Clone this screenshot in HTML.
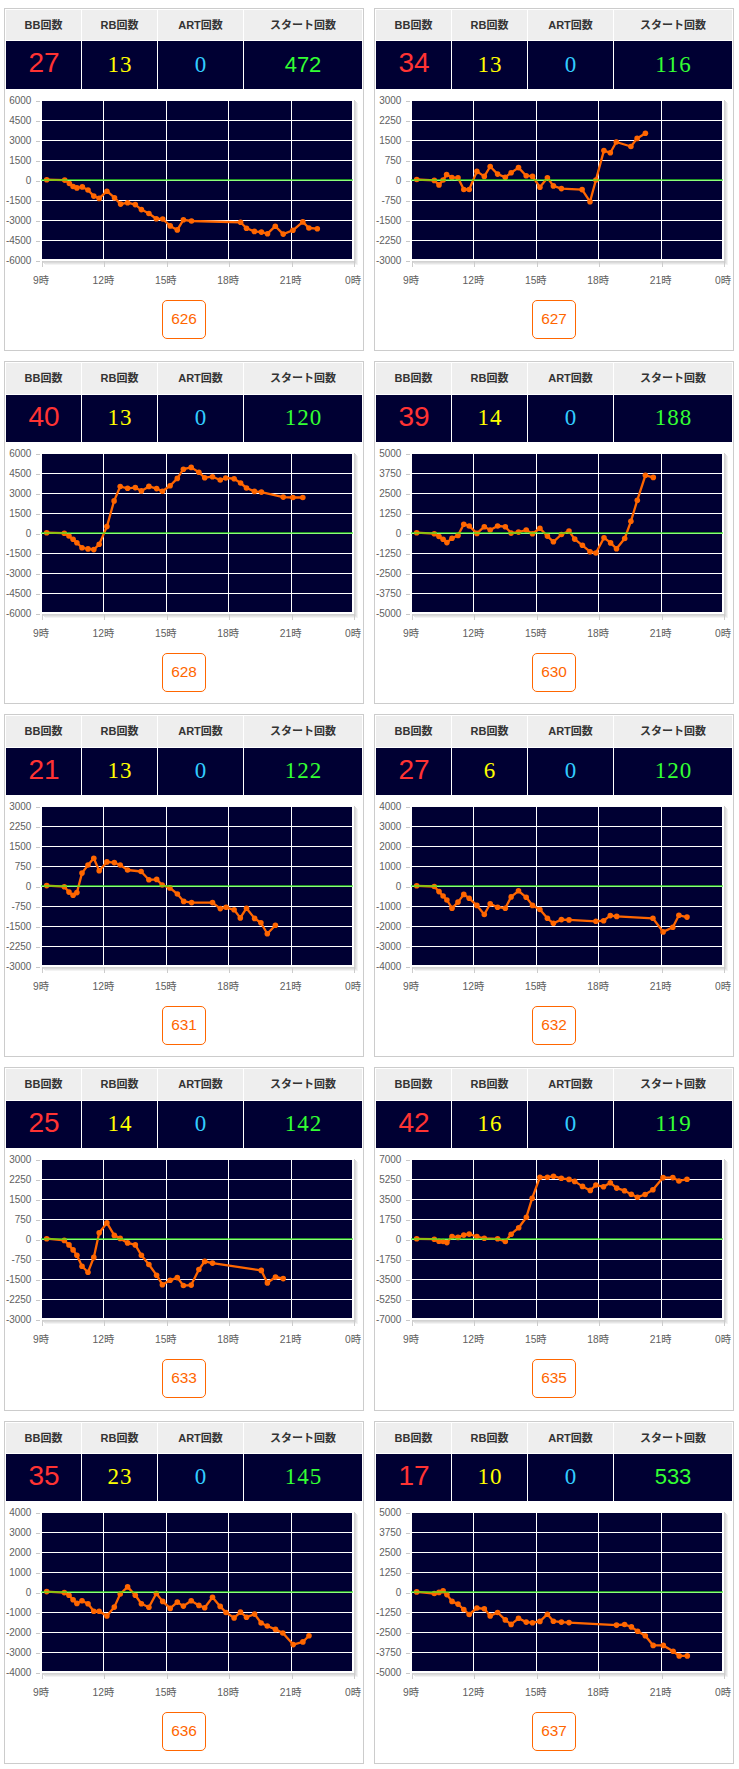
<!DOCTYPE html><html><head><meta charset="utf-8"><style>
*{margin:0;padding:0;box-sizing:border-box}
html,body{width:739px;height:1769px;background:#fff;overflow:hidden}
body{position:relative;font-family:"Liberation Sans","Noto Sans CJK JP",sans-serif}
.card{position:absolute;width:360px;height:345px}
.bd{position:absolute;left:0;width:360px;border:1px solid #ccc}
.h{position:absolute;background:#eee;color:#333;font-weight:bold;font-size:11px;text-align:center;white-space:nowrap}
.d{position:absolute;background:#000033;text-align:center;white-space:nowrap}
.c1{left:2px;width:75px}.c2{left:78px;width:75px}.c3{left:154px;width:85px}.c4{left:240px;width:118px}
.d span{position:absolute;left:0;right:0;top:0;line-height:1}
.rb,.art,.st2{letter-spacing:1px;padding-left:1px}
.bb{color:#ff3333;font-size:28px;font-family:"Liberation Sans",sans-serif}
.rb{color:#ffff00;font-size:23px;font-family:"Liberation Serif",serif}
.art{color:#33ccff;font-size:23px;font-family:"Liberation Serif",serif}
.st{color:#33ff33;font-size:22px;font-family:"Liberation Sans",sans-serif}
.st2{color:#33ff33;font-size:23px;font-family:"Liberation Serif",serif}
.chart{position:absolute;left:0;top:0}
.btn{position:absolute;left:158px;top:292px;width:44px;height:39px;border:1px solid #ff6600;border-radius:5px;color:#ff6600;font-size:15.4px;line-height:36px;text-align:center;font-family:"Liberation Sans",sans-serif}
.yl{font-size:10.5px;fill:#606060;font-family:"Liberation Sans",sans-serif}
.xl{font-size:10.3px;fill:#606060;font-family:"Liberation Sans","Noto Sans CJK JP",sans-serif}
</style></head><body><div class="card" style="left:4px;top:8px"><div class="bd" style="top:0px;height:343px"></div><div class="h c1" style="top:2px;height:30px;line-height:30px">BB回数</div><div class="h c2" style="top:2px;height:30px;line-height:30px">RB回数</div><div class="h c3" style="top:2px;height:30px;line-height:30px">ART回数</div><div class="h c4" style="top:2px;height:30px;line-height:30px">スタート回数</div><div class="d c1" style="top:33px;height:48px"><span class="bb" style="top:8px;left:1px">27</span></div><div class="d c2" style="top:33px;height:48px"><span class="rb" style="top:12px">13</span></div><div class="d c3" style="top:33px;height:48px"><span class="art" style="top:12px">0</span></div><div class="d c4" style="top:33px;height:48px"><span class="st" style="top:13px">472</span></div><svg class="chart" width="360" height="300" viewBox="0 0 360 300"><rect x="350" y="92" width="1" height="161" fill="#d2d2d2"/><rect x="38" y="253" width="313" height="1" fill="#d2d2d2"/><rect x="351" y="93" width="1" height="161" fill="#dadada"/><rect x="39" y="254" width="313" height="1" fill="#dadada"/><rect x="352" y="94" width="1" height="161" fill="#e6e6e6"/><rect x="40" y="255" width="313" height="1" fill="#e6e6e6"/><rect x="353" y="95" width="1" height="161" fill="#f3f3f3"/><rect x="41" y="256" width="313" height="1" fill="#f3f3f3"/><rect x="38" y="93" width="310" height="158" fill="#000033"/><rect x="99" y="93" width="1" height="158" fill="#fff"/><rect x="162" y="93" width="1" height="158" fill="#fff"/><rect x="224" y="93" width="1" height="158" fill="#fff"/><rect x="287" y="93" width="1" height="158" fill="#fff"/><rect x="38" y="112" width="310" height="1" fill="#fff"/><rect x="38" y="132" width="310" height="1" fill="#fff"/><rect x="38" y="152" width="310" height="1" fill="#fff"/><rect x="38" y="172" width="310" height="1" fill="#fff"/><rect x="38" y="192" width="310" height="1" fill="#fff"/><rect x="38" y="212" width="310" height="1" fill="#fff"/><rect x="38" y="232" width="310" height="1" fill="#fff"/><rect x="32" y="93" width="4" height="1" fill="#c8c8c8"/><text class="yl" transform="translate(27.4 95.8) scale(0.95 1)" text-anchor="end">6000</text><rect x="32" y="113" width="4" height="1" fill="#c8c8c8"/><text class="yl" transform="translate(27.4 115.8) scale(0.95 1)" text-anchor="end">4500</text><rect x="32" y="133" width="4" height="1" fill="#c8c8c8"/><text class="yl" transform="translate(27.4 135.8) scale(0.95 1)" text-anchor="end">3000</text><rect x="32" y="153" width="4" height="1" fill="#c8c8c8"/><text class="yl" transform="translate(27.4 155.8) scale(0.95 1)" text-anchor="end">1500</text><rect x="32" y="173" width="4" height="1" fill="#c8c8c8"/><text class="yl" transform="translate(27.4 175.8) scale(0.95 1)" text-anchor="end">0</text><rect x="32" y="193" width="4" height="1" fill="#c8c8c8"/><text class="yl" transform="translate(27.4 195.8) scale(0.95 1)" text-anchor="end">-1500</text><rect x="32" y="213" width="4" height="1" fill="#c8c8c8"/><text class="yl" transform="translate(27.4 215.8) scale(0.95 1)" text-anchor="end">-3000</text><rect x="32" y="233" width="4" height="1" fill="#c8c8c8"/><text class="yl" transform="translate(27.4 235.8) scale(0.95 1)" text-anchor="end">-4500</text><rect x="32" y="253" width="4" height="1" fill="#c8c8c8"/><text class="yl" transform="translate(27.4 255.8) scale(0.95 1)" text-anchor="end">-6000</text><rect x="38" y="253" width="1" height="6" fill="#ccc"/><text class="xl" x="37.0" y="276" text-anchor="middle">9時</text><rect x="100" y="253" width="1" height="6" fill="#ccc"/><text class="xl" x="99.4" y="276" text-anchor="middle">12時</text><rect x="163" y="253" width="1" height="6" fill="#ccc"/><text class="xl" x="161.8" y="276" text-anchor="middle">15時</text><rect x="225" y="253" width="1" height="6" fill="#ccc"/><text class="xl" x="224.2" y="276" text-anchor="middle">18時</text><rect x="288" y="253" width="1" height="6" fill="#ccc"/><text class="xl" x="286.6" y="276" text-anchor="middle">21時</text><rect x="350" y="253" width="1" height="6" fill="#ccc"/><text class="xl" x="349.0" y="276" text-anchor="middle">0時</text><polyline points="42.7,171.7 60.7,172.1 65.4,175.5 69.1,178.5 72.9,179.9 78.3,178.9 84.0,182.0 89.8,188.1 95.2,190.4 102.9,183.2 110.5,189.7 116.6,196.1 123.6,194.7 131.3,196.6 137.4,201.6 144.9,205.5 152.3,210.7 158.7,211.0 166.2,217.9 173.3,221.9 179.4,211.8 187.5,213.0 236.6,214.3 242.5,220.3 250.4,223.4 257.4,224.1 263.5,225.7 271.3,218.2 279.2,226.1 288.9,222.3 298.8,213.9 304.9,220.0 313.3,220.7" fill="none" stroke="#ff6600" stroke-width="2.3" stroke-linejoin="round"/><circle cx="42.7" cy="171.7" r="2.8" fill="#ff6600"/><circle cx="60.7" cy="172.1" r="2.8" fill="#ff6600"/><circle cx="65.4" cy="175.5" r="2.8" fill="#ff6600"/><circle cx="69.1" cy="178.5" r="2.8" fill="#ff6600"/><circle cx="72.9" cy="179.9" r="2.8" fill="#ff6600"/><circle cx="78.3" cy="178.9" r="2.8" fill="#ff6600"/><circle cx="84.0" cy="182.0" r="2.8" fill="#ff6600"/><circle cx="89.8" cy="188.1" r="2.8" fill="#ff6600"/><circle cx="95.2" cy="190.4" r="2.8" fill="#ff6600"/><circle cx="102.9" cy="183.2" r="2.8" fill="#ff6600"/><circle cx="110.5" cy="189.7" r="2.8" fill="#ff6600"/><circle cx="116.6" cy="196.1" r="2.8" fill="#ff6600"/><circle cx="123.6" cy="194.7" r="2.8" fill="#ff6600"/><circle cx="131.3" cy="196.6" r="2.8" fill="#ff6600"/><circle cx="137.4" cy="201.6" r="2.8" fill="#ff6600"/><circle cx="144.9" cy="205.5" r="2.8" fill="#ff6600"/><circle cx="152.3" cy="210.7" r="2.8" fill="#ff6600"/><circle cx="158.7" cy="211.0" r="2.8" fill="#ff6600"/><circle cx="166.2" cy="217.9" r="2.8" fill="#ff6600"/><circle cx="173.3" cy="221.9" r="2.8" fill="#ff6600"/><circle cx="179.4" cy="211.8" r="2.8" fill="#ff6600"/><circle cx="187.5" cy="213.0" r="2.8" fill="#ff6600"/><circle cx="236.6" cy="214.3" r="2.8" fill="#ff6600"/><circle cx="242.5" cy="220.3" r="2.8" fill="#ff6600"/><circle cx="250.4" cy="223.4" r="2.8" fill="#ff6600"/><circle cx="257.4" cy="224.1" r="2.8" fill="#ff6600"/><circle cx="263.5" cy="225.7" r="2.8" fill="#ff6600"/><circle cx="271.3" cy="218.2" r="2.8" fill="#ff6600"/><circle cx="279.2" cy="226.1" r="2.8" fill="#ff6600"/><circle cx="288.9" cy="222.3" r="2.8" fill="#ff6600"/><circle cx="298.8" cy="213.9" r="2.8" fill="#ff6600"/><circle cx="304.9" cy="220.0" r="2.8" fill="#ff6600"/><circle cx="313.3" cy="220.7" r="2.8" fill="#ff6600"/><rect x="37" y="171" width="312" height="2" fill="rgba(60,255,30,0.58)"/></svg><div class="btn">626</div></div><div class="card" style="left:374px;top:8px"><div class="bd" style="top:0px;height:343px"></div><div class="h c1" style="top:2px;height:30px;line-height:30px">BB回数</div><div class="h c2" style="top:2px;height:30px;line-height:30px">RB回数</div><div class="h c3" style="top:2px;height:30px;line-height:30px">ART回数</div><div class="h c4" style="top:2px;height:30px;line-height:30px">スタート回数</div><div class="d c1" style="top:33px;height:48px"><span class="bb" style="top:8px;left:1px">34</span></div><div class="d c2" style="top:33px;height:48px"><span class="rb" style="top:12px">13</span></div><div class="d c3" style="top:33px;height:48px"><span class="art" style="top:12px">0</span></div><div class="d c4" style="top:33px;height:48px"><span class="st2" style="top:12px">116</span></div><svg class="chart" width="360" height="300" viewBox="0 0 360 300"><rect x="350" y="92" width="1" height="161" fill="#d2d2d2"/><rect x="38" y="253" width="313" height="1" fill="#d2d2d2"/><rect x="351" y="93" width="1" height="161" fill="#dadada"/><rect x="39" y="254" width="313" height="1" fill="#dadada"/><rect x="352" y="94" width="1" height="161" fill="#e6e6e6"/><rect x="40" y="255" width="313" height="1" fill="#e6e6e6"/><rect x="353" y="95" width="1" height="161" fill="#f3f3f3"/><rect x="41" y="256" width="313" height="1" fill="#f3f3f3"/><rect x="38" y="93" width="310" height="158" fill="#000033"/><rect x="99" y="93" width="1" height="158" fill="#fff"/><rect x="162" y="93" width="1" height="158" fill="#fff"/><rect x="224" y="93" width="1" height="158" fill="#fff"/><rect x="287" y="93" width="1" height="158" fill="#fff"/><rect x="38" y="112" width="310" height="1" fill="#fff"/><rect x="38" y="132" width="310" height="1" fill="#fff"/><rect x="38" y="152" width="310" height="1" fill="#fff"/><rect x="38" y="172" width="310" height="1" fill="#fff"/><rect x="38" y="192" width="310" height="1" fill="#fff"/><rect x="38" y="212" width="310" height="1" fill="#fff"/><rect x="38" y="232" width="310" height="1" fill="#fff"/><rect x="32" y="93" width="4" height="1" fill="#c8c8c8"/><text class="yl" transform="translate(27.4 95.8) scale(0.95 1)" text-anchor="end">3000</text><rect x="32" y="113" width="4" height="1" fill="#c8c8c8"/><text class="yl" transform="translate(27.4 115.8) scale(0.95 1)" text-anchor="end">2250</text><rect x="32" y="133" width="4" height="1" fill="#c8c8c8"/><text class="yl" transform="translate(27.4 135.8) scale(0.95 1)" text-anchor="end">1500</text><rect x="32" y="153" width="4" height="1" fill="#c8c8c8"/><text class="yl" transform="translate(27.4 155.8) scale(0.95 1)" text-anchor="end">750</text><rect x="32" y="173" width="4" height="1" fill="#c8c8c8"/><text class="yl" transform="translate(27.4 175.8) scale(0.95 1)" text-anchor="end">0</text><rect x="32" y="193" width="4" height="1" fill="#c8c8c8"/><text class="yl" transform="translate(27.4 195.8) scale(0.95 1)" text-anchor="end">-750</text><rect x="32" y="213" width="4" height="1" fill="#c8c8c8"/><text class="yl" transform="translate(27.4 215.8) scale(0.95 1)" text-anchor="end">-1500</text><rect x="32" y="233" width="4" height="1" fill="#c8c8c8"/><text class="yl" transform="translate(27.4 235.8) scale(0.95 1)" text-anchor="end">-2250</text><rect x="32" y="253" width="4" height="1" fill="#c8c8c8"/><text class="yl" transform="translate(27.4 255.8) scale(0.95 1)" text-anchor="end">-3000</text><rect x="38" y="253" width="1" height="6" fill="#ccc"/><text class="xl" x="37.0" y="276" text-anchor="middle">9時</text><rect x="100" y="253" width="1" height="6" fill="#ccc"/><text class="xl" x="99.4" y="276" text-anchor="middle">12時</text><rect x="163" y="253" width="1" height="6" fill="#ccc"/><text class="xl" x="161.8" y="276" text-anchor="middle">15時</text><rect x="225" y="253" width="1" height="6" fill="#ccc"/><text class="xl" x="224.2" y="276" text-anchor="middle">18時</text><rect x="288" y="253" width="1" height="6" fill="#ccc"/><text class="xl" x="286.6" y="276" text-anchor="middle">21時</text><rect x="350" y="253" width="1" height="6" fill="#ccc"/><text class="xl" x="349.0" y="276" text-anchor="middle">0時</text><polyline points="42.7,171.5 60.3,172.4 65.0,176.9 69.1,172.0 72.6,166.6 77.9,169.5 84.0,169.7 89.8,181.5 95.2,181.5 102.9,163.4 110.3,168.4 116.2,158.5 123.6,166.1 131.3,169.3 137.1,164.7 144.5,159.6 152.2,167.7 158.5,168.4 165.9,179.2 173.4,169.7 179.4,177.9 187.4,180.6 208.1,181.6 216.0,193.7 221.9,172.0 229.9,142.6 236.3,144.8 242.3,134.0 256.9,138.5 263.1,130.4 271.4,125.3" fill="none" stroke="#ff6600" stroke-width="2.3" stroke-linejoin="round"/><circle cx="42.7" cy="171.5" r="2.8" fill="#ff6600"/><circle cx="60.3" cy="172.4" r="2.8" fill="#ff6600"/><circle cx="65.0" cy="176.9" r="2.8" fill="#ff6600"/><circle cx="69.1" cy="172.0" r="2.8" fill="#ff6600"/><circle cx="72.6" cy="166.6" r="2.8" fill="#ff6600"/><circle cx="77.9" cy="169.5" r="2.8" fill="#ff6600"/><circle cx="84.0" cy="169.7" r="2.8" fill="#ff6600"/><circle cx="89.8" cy="181.5" r="2.8" fill="#ff6600"/><circle cx="95.2" cy="181.5" r="2.8" fill="#ff6600"/><circle cx="102.9" cy="163.4" r="2.8" fill="#ff6600"/><circle cx="110.3" cy="168.4" r="2.8" fill="#ff6600"/><circle cx="116.2" cy="158.5" r="2.8" fill="#ff6600"/><circle cx="123.6" cy="166.1" r="2.8" fill="#ff6600"/><circle cx="131.3" cy="169.3" r="2.8" fill="#ff6600"/><circle cx="137.1" cy="164.7" r="2.8" fill="#ff6600"/><circle cx="144.5" cy="159.6" r="2.8" fill="#ff6600"/><circle cx="152.2" cy="167.7" r="2.8" fill="#ff6600"/><circle cx="158.5" cy="168.4" r="2.8" fill="#ff6600"/><circle cx="165.9" cy="179.2" r="2.8" fill="#ff6600"/><circle cx="173.4" cy="169.7" r="2.8" fill="#ff6600"/><circle cx="179.4" cy="177.9" r="2.8" fill="#ff6600"/><circle cx="187.4" cy="180.6" r="2.8" fill="#ff6600"/><circle cx="208.1" cy="181.6" r="2.8" fill="#ff6600"/><circle cx="216.0" cy="193.7" r="2.8" fill="#ff6600"/><circle cx="221.9" cy="172.0" r="2.8" fill="#ff6600"/><circle cx="229.9" cy="142.6" r="2.8" fill="#ff6600"/><circle cx="236.3" cy="144.8" r="2.8" fill="#ff6600"/><circle cx="242.3" cy="134.0" r="2.8" fill="#ff6600"/><circle cx="256.9" cy="138.5" r="2.8" fill="#ff6600"/><circle cx="263.1" cy="130.4" r="2.8" fill="#ff6600"/><circle cx="271.4" cy="125.3" r="2.8" fill="#ff6600"/><rect x="37" y="171" width="312" height="2" fill="rgba(60,255,30,0.58)"/></svg><div class="btn">627</div></div><div class="card" style="left:4px;top:361px"><div class="bd" style="top:0px;height:343px"></div><div class="h c1" style="top:2px;height:31px;line-height:31px">BB回数</div><div class="h c2" style="top:2px;height:31px;line-height:31px">RB回数</div><div class="h c3" style="top:2px;height:31px;line-height:31px">ART回数</div><div class="h c4" style="top:2px;height:31px;line-height:31px">スタート回数</div><div class="d c1" style="top:34px;height:47px"><span class="bb" style="top:8px;left:1px">40</span></div><div class="d c2" style="top:34px;height:47px"><span class="rb" style="top:11px">13</span></div><div class="d c3" style="top:34px;height:47px"><span class="art" style="top:11px">0</span></div><div class="d c4" style="top:34px;height:47px"><span class="st2" style="top:11px">120</span></div><svg class="chart" width="360" height="300" viewBox="0 0 360 300"><rect x="350" y="92" width="1" height="161" fill="#d2d2d2"/><rect x="38" y="253" width="313" height="1" fill="#d2d2d2"/><rect x="351" y="93" width="1" height="161" fill="#dadada"/><rect x="39" y="254" width="313" height="1" fill="#dadada"/><rect x="352" y="94" width="1" height="161" fill="#e6e6e6"/><rect x="40" y="255" width="313" height="1" fill="#e6e6e6"/><rect x="353" y="95" width="1" height="161" fill="#f3f3f3"/><rect x="41" y="256" width="313" height="1" fill="#f3f3f3"/><rect x="38" y="93" width="310" height="158" fill="#000033"/><rect x="99" y="93" width="1" height="158" fill="#fff"/><rect x="162" y="93" width="1" height="158" fill="#fff"/><rect x="224" y="93" width="1" height="158" fill="#fff"/><rect x="287" y="93" width="1" height="158" fill="#fff"/><rect x="38" y="112" width="310" height="1" fill="#fff"/><rect x="38" y="132" width="310" height="1" fill="#fff"/><rect x="38" y="152" width="310" height="1" fill="#fff"/><rect x="38" y="172" width="310" height="1" fill="#fff"/><rect x="38" y="192" width="310" height="1" fill="#fff"/><rect x="38" y="212" width="310" height="1" fill="#fff"/><rect x="38" y="232" width="310" height="1" fill="#fff"/><rect x="32" y="93" width="4" height="1" fill="#c8c8c8"/><text class="yl" transform="translate(27.4 95.8) scale(0.95 1)" text-anchor="end">6000</text><rect x="32" y="113" width="4" height="1" fill="#c8c8c8"/><text class="yl" transform="translate(27.4 115.8) scale(0.95 1)" text-anchor="end">4500</text><rect x="32" y="133" width="4" height="1" fill="#c8c8c8"/><text class="yl" transform="translate(27.4 135.8) scale(0.95 1)" text-anchor="end">3000</text><rect x="32" y="153" width="4" height="1" fill="#c8c8c8"/><text class="yl" transform="translate(27.4 155.8) scale(0.95 1)" text-anchor="end">1500</text><rect x="32" y="173" width="4" height="1" fill="#c8c8c8"/><text class="yl" transform="translate(27.4 175.8) scale(0.95 1)" text-anchor="end">0</text><rect x="32" y="193" width="4" height="1" fill="#c8c8c8"/><text class="yl" transform="translate(27.4 195.8) scale(0.95 1)" text-anchor="end">-1500</text><rect x="32" y="213" width="4" height="1" fill="#c8c8c8"/><text class="yl" transform="translate(27.4 215.8) scale(0.95 1)" text-anchor="end">-3000</text><rect x="32" y="233" width="4" height="1" fill="#c8c8c8"/><text class="yl" transform="translate(27.4 235.8) scale(0.95 1)" text-anchor="end">-4500</text><rect x="32" y="253" width="4" height="1" fill="#c8c8c8"/><text class="yl" transform="translate(27.4 255.8) scale(0.95 1)" text-anchor="end">-6000</text><rect x="38" y="253" width="1" height="6" fill="#ccc"/><text class="xl" x="37.0" y="276" text-anchor="middle">9時</text><rect x="100" y="253" width="1" height="6" fill="#ccc"/><text class="xl" x="99.4" y="276" text-anchor="middle">12時</text><rect x="163" y="253" width="1" height="6" fill="#ccc"/><text class="xl" x="161.8" y="276" text-anchor="middle">15時</text><rect x="225" y="253" width="1" height="6" fill="#ccc"/><text class="xl" x="224.2" y="276" text-anchor="middle">18時</text><rect x="288" y="253" width="1" height="6" fill="#ccc"/><text class="xl" x="286.6" y="276" text-anchor="middle">21時</text><rect x="350" y="253" width="1" height="6" fill="#ccc"/><text class="xl" x="349.0" y="276" text-anchor="middle">0時</text><polyline points="42.7,171.7 60.3,172.2 65.0,175.0 69.1,178.3 72.9,181.8 78.0,186.8 84.0,187.9 89.8,188.6 95.2,183.2 102.9,165.6 110.1,139.9 116.2,125.5 123.6,127.3 131.3,126.6 137.4,129.9 144.9,125.4 152.6,127.6 158.4,130.3 166.1,124.7 173.3,117.4 179.4,108.2 187.2,106.4 194.9,111.3 200.7,116.7 208.5,115.7 216.2,119.0 221.7,117.0 230.1,117.7 236.6,122.0 242.5,127.0 250.4,130.4 257.4,131.1 279.2,136.1 288.9,136.5 298.8,136.5" fill="none" stroke="#ff6600" stroke-width="2.3" stroke-linejoin="round"/><circle cx="42.7" cy="171.7" r="2.8" fill="#ff6600"/><circle cx="60.3" cy="172.2" r="2.8" fill="#ff6600"/><circle cx="65.0" cy="175.0" r="2.8" fill="#ff6600"/><circle cx="69.1" cy="178.3" r="2.8" fill="#ff6600"/><circle cx="72.9" cy="181.8" r="2.8" fill="#ff6600"/><circle cx="78.0" cy="186.8" r="2.8" fill="#ff6600"/><circle cx="84.0" cy="187.9" r="2.8" fill="#ff6600"/><circle cx="89.8" cy="188.6" r="2.8" fill="#ff6600"/><circle cx="95.2" cy="183.2" r="2.8" fill="#ff6600"/><circle cx="102.9" cy="165.6" r="2.8" fill="#ff6600"/><circle cx="110.1" cy="139.9" r="2.8" fill="#ff6600"/><circle cx="116.2" cy="125.5" r="2.8" fill="#ff6600"/><circle cx="123.6" cy="127.3" r="2.8" fill="#ff6600"/><circle cx="131.3" cy="126.6" r="2.8" fill="#ff6600"/><circle cx="137.4" cy="129.9" r="2.8" fill="#ff6600"/><circle cx="144.9" cy="125.4" r="2.8" fill="#ff6600"/><circle cx="152.6" cy="127.6" r="2.8" fill="#ff6600"/><circle cx="158.4" cy="130.3" r="2.8" fill="#ff6600"/><circle cx="166.1" cy="124.7" r="2.8" fill="#ff6600"/><circle cx="173.3" cy="117.4" r="2.8" fill="#ff6600"/><circle cx="179.4" cy="108.2" r="2.8" fill="#ff6600"/><circle cx="187.2" cy="106.4" r="2.8" fill="#ff6600"/><circle cx="194.9" cy="111.3" r="2.8" fill="#ff6600"/><circle cx="200.7" cy="116.7" r="2.8" fill="#ff6600"/><circle cx="208.5" cy="115.7" r="2.8" fill="#ff6600"/><circle cx="216.2" cy="119.0" r="2.8" fill="#ff6600"/><circle cx="221.7" cy="117.0" r="2.8" fill="#ff6600"/><circle cx="230.1" cy="117.7" r="2.8" fill="#ff6600"/><circle cx="236.6" cy="122.0" r="2.8" fill="#ff6600"/><circle cx="242.5" cy="127.0" r="2.8" fill="#ff6600"/><circle cx="250.4" cy="130.4" r="2.8" fill="#ff6600"/><circle cx="257.4" cy="131.1" r="2.8" fill="#ff6600"/><circle cx="279.2" cy="136.1" r="2.8" fill="#ff6600"/><circle cx="288.9" cy="136.5" r="2.8" fill="#ff6600"/><circle cx="298.8" cy="136.5" r="2.8" fill="#ff6600"/><rect x="37" y="171" width="312" height="2" fill="rgba(60,255,30,0.58)"/></svg><div class="btn">628</div></div><div class="card" style="left:374px;top:361px"><div class="bd" style="top:0px;height:343px"></div><div class="h c1" style="top:2px;height:31px;line-height:31px">BB回数</div><div class="h c2" style="top:2px;height:31px;line-height:31px">RB回数</div><div class="h c3" style="top:2px;height:31px;line-height:31px">ART回数</div><div class="h c4" style="top:2px;height:31px;line-height:31px">スタート回数</div><div class="d c1" style="top:34px;height:47px"><span class="bb" style="top:8px;left:1px">39</span></div><div class="d c2" style="top:34px;height:47px"><span class="rb" style="top:11px">14</span></div><div class="d c3" style="top:34px;height:47px"><span class="art" style="top:11px">0</span></div><div class="d c4" style="top:34px;height:47px"><span class="st2" style="top:11px">188</span></div><svg class="chart" width="360" height="300" viewBox="0 0 360 300"><rect x="350" y="92" width="1" height="161" fill="#d2d2d2"/><rect x="38" y="253" width="313" height="1" fill="#d2d2d2"/><rect x="351" y="93" width="1" height="161" fill="#dadada"/><rect x="39" y="254" width="313" height="1" fill="#dadada"/><rect x="352" y="94" width="1" height="161" fill="#e6e6e6"/><rect x="40" y="255" width="313" height="1" fill="#e6e6e6"/><rect x="353" y="95" width="1" height="161" fill="#f3f3f3"/><rect x="41" y="256" width="313" height="1" fill="#f3f3f3"/><rect x="38" y="93" width="310" height="158" fill="#000033"/><rect x="99" y="93" width="1" height="158" fill="#fff"/><rect x="162" y="93" width="1" height="158" fill="#fff"/><rect x="224" y="93" width="1" height="158" fill="#fff"/><rect x="287" y="93" width="1" height="158" fill="#fff"/><rect x="38" y="112" width="310" height="1" fill="#fff"/><rect x="38" y="132" width="310" height="1" fill="#fff"/><rect x="38" y="152" width="310" height="1" fill="#fff"/><rect x="38" y="172" width="310" height="1" fill="#fff"/><rect x="38" y="192" width="310" height="1" fill="#fff"/><rect x="38" y="212" width="310" height="1" fill="#fff"/><rect x="38" y="232" width="310" height="1" fill="#fff"/><rect x="32" y="93" width="4" height="1" fill="#c8c8c8"/><text class="yl" transform="translate(27.4 95.8) scale(0.95 1)" text-anchor="end">5000</text><rect x="32" y="113" width="4" height="1" fill="#c8c8c8"/><text class="yl" transform="translate(27.4 115.8) scale(0.95 1)" text-anchor="end">3750</text><rect x="32" y="133" width="4" height="1" fill="#c8c8c8"/><text class="yl" transform="translate(27.4 135.8) scale(0.95 1)" text-anchor="end">2500</text><rect x="32" y="153" width="4" height="1" fill="#c8c8c8"/><text class="yl" transform="translate(27.4 155.8) scale(0.95 1)" text-anchor="end">1250</text><rect x="32" y="173" width="4" height="1" fill="#c8c8c8"/><text class="yl" transform="translate(27.4 175.8) scale(0.95 1)" text-anchor="end">0</text><rect x="32" y="193" width="4" height="1" fill="#c8c8c8"/><text class="yl" transform="translate(27.4 195.8) scale(0.95 1)" text-anchor="end">-1250</text><rect x="32" y="213" width="4" height="1" fill="#c8c8c8"/><text class="yl" transform="translate(27.4 215.8) scale(0.95 1)" text-anchor="end">-2500</text><rect x="32" y="233" width="4" height="1" fill="#c8c8c8"/><text class="yl" transform="translate(27.4 235.8) scale(0.95 1)" text-anchor="end">-3750</text><rect x="32" y="253" width="4" height="1" fill="#c8c8c8"/><text class="yl" transform="translate(27.4 255.8) scale(0.95 1)" text-anchor="end">-5000</text><rect x="38" y="253" width="1" height="6" fill="#ccc"/><text class="xl" x="37.0" y="276" text-anchor="middle">9時</text><rect x="100" y="253" width="1" height="6" fill="#ccc"/><text class="xl" x="99.4" y="276" text-anchor="middle">12時</text><rect x="163" y="253" width="1" height="6" fill="#ccc"/><text class="xl" x="161.8" y="276" text-anchor="middle">15時</text><rect x="225" y="253" width="1" height="6" fill="#ccc"/><text class="xl" x="224.2" y="276" text-anchor="middle">18時</text><rect x="288" y="253" width="1" height="6" fill="#ccc"/><text class="xl" x="286.6" y="276" text-anchor="middle">21時</text><rect x="350" y="253" width="1" height="6" fill="#ccc"/><text class="xl" x="349.0" y="276" text-anchor="middle">0時</text><polyline points="42.7,171.7 60.3,172.7 65.0,175.5 69.1,178.2 72.9,181.6 78.0,177.2 84.0,174.4 89.8,163.2 95.2,165.0 102.9,172.4 110.3,165.7 116.2,169.0 123.6,165.0 131.3,165.7 137.1,172.1 144.5,171.1 152.2,169.0 158.5,172.7 165.9,167.3 173.4,175.1 179.4,180.8 187.4,173.5 195.0,170.1 200.7,178.1 208.4,184.3 216.0,190.7 221.9,192.0 230.0,176.7 236.6,181.9 242.5,187.8 250.7,177.5 256.9,160.3 263.3,139.2 271.4,114.3 279.3,116.4" fill="none" stroke="#ff6600" stroke-width="2.3" stroke-linejoin="round"/><circle cx="42.7" cy="171.7" r="2.8" fill="#ff6600"/><circle cx="60.3" cy="172.7" r="2.8" fill="#ff6600"/><circle cx="65.0" cy="175.5" r="2.8" fill="#ff6600"/><circle cx="69.1" cy="178.2" r="2.8" fill="#ff6600"/><circle cx="72.9" cy="181.6" r="2.8" fill="#ff6600"/><circle cx="78.0" cy="177.2" r="2.8" fill="#ff6600"/><circle cx="84.0" cy="174.4" r="2.8" fill="#ff6600"/><circle cx="89.8" cy="163.2" r="2.8" fill="#ff6600"/><circle cx="95.2" cy="165.0" r="2.8" fill="#ff6600"/><circle cx="102.9" cy="172.4" r="2.8" fill="#ff6600"/><circle cx="110.3" cy="165.7" r="2.8" fill="#ff6600"/><circle cx="116.2" cy="169.0" r="2.8" fill="#ff6600"/><circle cx="123.6" cy="165.0" r="2.8" fill="#ff6600"/><circle cx="131.3" cy="165.7" r="2.8" fill="#ff6600"/><circle cx="137.1" cy="172.1" r="2.8" fill="#ff6600"/><circle cx="144.5" cy="171.1" r="2.8" fill="#ff6600"/><circle cx="152.2" cy="169.0" r="2.8" fill="#ff6600"/><circle cx="158.5" cy="172.7" r="2.8" fill="#ff6600"/><circle cx="165.9" cy="167.3" r="2.8" fill="#ff6600"/><circle cx="173.4" cy="175.1" r="2.8" fill="#ff6600"/><circle cx="179.4" cy="180.8" r="2.8" fill="#ff6600"/><circle cx="187.4" cy="173.5" r="2.8" fill="#ff6600"/><circle cx="195.0" cy="170.1" r="2.8" fill="#ff6600"/><circle cx="200.7" cy="178.1" r="2.8" fill="#ff6600"/><circle cx="208.4" cy="184.3" r="2.8" fill="#ff6600"/><circle cx="216.0" cy="190.7" r="2.8" fill="#ff6600"/><circle cx="221.9" cy="192.0" r="2.8" fill="#ff6600"/><circle cx="230.0" cy="176.7" r="2.8" fill="#ff6600"/><circle cx="236.6" cy="181.9" r="2.8" fill="#ff6600"/><circle cx="242.5" cy="187.8" r="2.8" fill="#ff6600"/><circle cx="250.7" cy="177.5" r="2.8" fill="#ff6600"/><circle cx="256.9" cy="160.3" r="2.8" fill="#ff6600"/><circle cx="263.3" cy="139.2" r="2.8" fill="#ff6600"/><circle cx="271.4" cy="114.3" r="2.8" fill="#ff6600"/><circle cx="279.3" cy="116.4" r="2.8" fill="#ff6600"/><rect x="37" y="171" width="312" height="2" fill="rgba(60,255,30,0.58)"/></svg><div class="btn">630</div></div><div class="card" style="left:4px;top:714px"><div class="bd" style="top:0px;height:343px"></div><div class="h c1" style="top:2px;height:31px;line-height:31px">BB回数</div><div class="h c2" style="top:2px;height:31px;line-height:31px">RB回数</div><div class="h c3" style="top:2px;height:31px;line-height:31px">ART回数</div><div class="h c4" style="top:2px;height:31px;line-height:31px">スタート回数</div><div class="d c1" style="top:34px;height:47px"><span class="bb" style="top:8px;left:1px">21</span></div><div class="d c2" style="top:34px;height:47px"><span class="rb" style="top:11px">13</span></div><div class="d c3" style="top:34px;height:47px"><span class="art" style="top:11px">0</span></div><div class="d c4" style="top:34px;height:47px"><span class="st2" style="top:11px">122</span></div><svg class="chart" width="360" height="300" viewBox="0 0 360 300"><rect x="350" y="92" width="1" height="161" fill="#d2d2d2"/><rect x="38" y="253" width="313" height="1" fill="#d2d2d2"/><rect x="351" y="93" width="1" height="161" fill="#dadada"/><rect x="39" y="254" width="313" height="1" fill="#dadada"/><rect x="352" y="94" width="1" height="161" fill="#e6e6e6"/><rect x="40" y="255" width="313" height="1" fill="#e6e6e6"/><rect x="353" y="95" width="1" height="161" fill="#f3f3f3"/><rect x="41" y="256" width="313" height="1" fill="#f3f3f3"/><rect x="38" y="93" width="310" height="158" fill="#000033"/><rect x="99" y="93" width="1" height="158" fill="#fff"/><rect x="162" y="93" width="1" height="158" fill="#fff"/><rect x="224" y="93" width="1" height="158" fill="#fff"/><rect x="287" y="93" width="1" height="158" fill="#fff"/><rect x="38" y="112" width="310" height="1" fill="#fff"/><rect x="38" y="132" width="310" height="1" fill="#fff"/><rect x="38" y="152" width="310" height="1" fill="#fff"/><rect x="38" y="172" width="310" height="1" fill="#fff"/><rect x="38" y="192" width="310" height="1" fill="#fff"/><rect x="38" y="212" width="310" height="1" fill="#fff"/><rect x="38" y="232" width="310" height="1" fill="#fff"/><rect x="32" y="93" width="4" height="1" fill="#c8c8c8"/><text class="yl" transform="translate(27.4 95.8) scale(0.95 1)" text-anchor="end">3000</text><rect x="32" y="113" width="4" height="1" fill="#c8c8c8"/><text class="yl" transform="translate(27.4 115.8) scale(0.95 1)" text-anchor="end">2250</text><rect x="32" y="133" width="4" height="1" fill="#c8c8c8"/><text class="yl" transform="translate(27.4 135.8) scale(0.95 1)" text-anchor="end">1500</text><rect x="32" y="153" width="4" height="1" fill="#c8c8c8"/><text class="yl" transform="translate(27.4 155.8) scale(0.95 1)" text-anchor="end">750</text><rect x="32" y="173" width="4" height="1" fill="#c8c8c8"/><text class="yl" transform="translate(27.4 175.8) scale(0.95 1)" text-anchor="end">0</text><rect x="32" y="193" width="4" height="1" fill="#c8c8c8"/><text class="yl" transform="translate(27.4 195.8) scale(0.95 1)" text-anchor="end">-750</text><rect x="32" y="213" width="4" height="1" fill="#c8c8c8"/><text class="yl" transform="translate(27.4 215.8) scale(0.95 1)" text-anchor="end">-1500</text><rect x="32" y="233" width="4" height="1" fill="#c8c8c8"/><text class="yl" transform="translate(27.4 235.8) scale(0.95 1)" text-anchor="end">-2250</text><rect x="32" y="253" width="4" height="1" fill="#c8c8c8"/><text class="yl" transform="translate(27.4 255.8) scale(0.95 1)" text-anchor="end">-3000</text><rect x="38" y="253" width="1" height="6" fill="#ccc"/><text class="xl" x="37.0" y="276" text-anchor="middle">9時</text><rect x="100" y="253" width="1" height="6" fill="#ccc"/><text class="xl" x="99.4" y="276" text-anchor="middle">12時</text><rect x="163" y="253" width="1" height="6" fill="#ccc"/><text class="xl" x="161.8" y="276" text-anchor="middle">15時</text><rect x="225" y="253" width="1" height="6" fill="#ccc"/><text class="xl" x="224.2" y="276" text-anchor="middle">18時</text><rect x="288" y="253" width="1" height="6" fill="#ccc"/><text class="xl" x="286.6" y="276" text-anchor="middle">21時</text><rect x="350" y="253" width="1" height="6" fill="#ccc"/><text class="xl" x="349.0" y="276" text-anchor="middle">0時</text><polyline points="42.7,171.6 60.3,172.7 65.0,178.1 69.1,181.3 72.9,178.6 78.0,159.1 84.0,151.0 89.8,144.3 95.2,156.7 102.9,147.9 110.3,148.6 116.2,151.0 123.6,156.0 137.1,157.5 144.9,165.8 152.7,165.4 158.2,171.0 165.9,173.9 173.4,180.0 179.7,187.4 187.6,188.6 208.5,188.6 216.3,194.6 222.1,193.3 230.1,195.8 236.3,203.9 242.5,194.2 250.6,204.4 256.9,208.7 263.3,219.8 271.4,211.2" fill="none" stroke="#ff6600" stroke-width="2.3" stroke-linejoin="round"/><circle cx="42.7" cy="171.6" r="2.8" fill="#ff6600"/><circle cx="60.3" cy="172.7" r="2.8" fill="#ff6600"/><circle cx="65.0" cy="178.1" r="2.8" fill="#ff6600"/><circle cx="69.1" cy="181.3" r="2.8" fill="#ff6600"/><circle cx="72.9" cy="178.6" r="2.8" fill="#ff6600"/><circle cx="78.0" cy="159.1" r="2.8" fill="#ff6600"/><circle cx="84.0" cy="151.0" r="2.8" fill="#ff6600"/><circle cx="89.8" cy="144.3" r="2.8" fill="#ff6600"/><circle cx="95.2" cy="156.7" r="2.8" fill="#ff6600"/><circle cx="102.9" cy="147.9" r="2.8" fill="#ff6600"/><circle cx="110.3" cy="148.6" r="2.8" fill="#ff6600"/><circle cx="116.2" cy="151.0" r="2.8" fill="#ff6600"/><circle cx="123.6" cy="156.0" r="2.8" fill="#ff6600"/><circle cx="137.1" cy="157.5" r="2.8" fill="#ff6600"/><circle cx="144.9" cy="165.8" r="2.8" fill="#ff6600"/><circle cx="152.7" cy="165.4" r="2.8" fill="#ff6600"/><circle cx="158.2" cy="171.0" r="2.8" fill="#ff6600"/><circle cx="165.9" cy="173.9" r="2.8" fill="#ff6600"/><circle cx="173.4" cy="180.0" r="2.8" fill="#ff6600"/><circle cx="179.7" cy="187.4" r="2.8" fill="#ff6600"/><circle cx="187.6" cy="188.6" r="2.8" fill="#ff6600"/><circle cx="208.5" cy="188.6" r="2.8" fill="#ff6600"/><circle cx="216.3" cy="194.6" r="2.8" fill="#ff6600"/><circle cx="222.1" cy="193.3" r="2.8" fill="#ff6600"/><circle cx="230.1" cy="195.8" r="2.8" fill="#ff6600"/><circle cx="236.3" cy="203.9" r="2.8" fill="#ff6600"/><circle cx="242.5" cy="194.2" r="2.8" fill="#ff6600"/><circle cx="250.6" cy="204.4" r="2.8" fill="#ff6600"/><circle cx="256.9" cy="208.7" r="2.8" fill="#ff6600"/><circle cx="263.3" cy="219.8" r="2.8" fill="#ff6600"/><circle cx="271.4" cy="211.2" r="2.8" fill="#ff6600"/><rect x="37" y="171" width="312" height="2" fill="rgba(60,255,30,0.58)"/></svg><div class="btn">631</div></div><div class="card" style="left:374px;top:714px"><div class="bd" style="top:0px;height:343px"></div><div class="h c1" style="top:2px;height:31px;line-height:31px">BB回数</div><div class="h c2" style="top:2px;height:31px;line-height:31px">RB回数</div><div class="h c3" style="top:2px;height:31px;line-height:31px">ART回数</div><div class="h c4" style="top:2px;height:31px;line-height:31px">スタート回数</div><div class="d c1" style="top:34px;height:47px"><span class="bb" style="top:8px;left:1px">27</span></div><div class="d c2" style="top:34px;height:47px"><span class="rb" style="top:11px">6</span></div><div class="d c3" style="top:34px;height:47px"><span class="art" style="top:11px">0</span></div><div class="d c4" style="top:34px;height:47px"><span class="st2" style="top:11px">120</span></div><svg class="chart" width="360" height="300" viewBox="0 0 360 300"><rect x="350" y="92" width="1" height="161" fill="#d2d2d2"/><rect x="38" y="253" width="313" height="1" fill="#d2d2d2"/><rect x="351" y="93" width="1" height="161" fill="#dadada"/><rect x="39" y="254" width="313" height="1" fill="#dadada"/><rect x="352" y="94" width="1" height="161" fill="#e6e6e6"/><rect x="40" y="255" width="313" height="1" fill="#e6e6e6"/><rect x="353" y="95" width="1" height="161" fill="#f3f3f3"/><rect x="41" y="256" width="313" height="1" fill="#f3f3f3"/><rect x="38" y="93" width="310" height="158" fill="#000033"/><rect x="99" y="93" width="1" height="158" fill="#fff"/><rect x="162" y="93" width="1" height="158" fill="#fff"/><rect x="224" y="93" width="1" height="158" fill="#fff"/><rect x="287" y="93" width="1" height="158" fill="#fff"/><rect x="38" y="112" width="310" height="1" fill="#fff"/><rect x="38" y="132" width="310" height="1" fill="#fff"/><rect x="38" y="152" width="310" height="1" fill="#fff"/><rect x="38" y="172" width="310" height="1" fill="#fff"/><rect x="38" y="192" width="310" height="1" fill="#fff"/><rect x="38" y="212" width="310" height="1" fill="#fff"/><rect x="38" y="232" width="310" height="1" fill="#fff"/><rect x="32" y="93" width="4" height="1" fill="#c8c8c8"/><text class="yl" transform="translate(27.4 95.8) scale(0.95 1)" text-anchor="end">4000</text><rect x="32" y="113" width="4" height="1" fill="#c8c8c8"/><text class="yl" transform="translate(27.4 115.8) scale(0.95 1)" text-anchor="end">3000</text><rect x="32" y="133" width="4" height="1" fill="#c8c8c8"/><text class="yl" transform="translate(27.4 135.8) scale(0.95 1)" text-anchor="end">2000</text><rect x="32" y="153" width="4" height="1" fill="#c8c8c8"/><text class="yl" transform="translate(27.4 155.8) scale(0.95 1)" text-anchor="end">1000</text><rect x="32" y="173" width="4" height="1" fill="#c8c8c8"/><text class="yl" transform="translate(27.4 175.8) scale(0.95 1)" text-anchor="end">0</text><rect x="32" y="193" width="4" height="1" fill="#c8c8c8"/><text class="yl" transform="translate(27.4 195.8) scale(0.95 1)" text-anchor="end">-1000</text><rect x="32" y="213" width="4" height="1" fill="#c8c8c8"/><text class="yl" transform="translate(27.4 215.8) scale(0.95 1)" text-anchor="end">-2000</text><rect x="32" y="233" width="4" height="1" fill="#c8c8c8"/><text class="yl" transform="translate(27.4 235.8) scale(0.95 1)" text-anchor="end">-3000</text><rect x="32" y="253" width="4" height="1" fill="#c8c8c8"/><text class="yl" transform="translate(27.4 255.8) scale(0.95 1)" text-anchor="end">-4000</text><rect x="38" y="253" width="1" height="6" fill="#ccc"/><text class="xl" x="37.0" y="276" text-anchor="middle">9時</text><rect x="100" y="253" width="1" height="6" fill="#ccc"/><text class="xl" x="99.4" y="276" text-anchor="middle">12時</text><rect x="163" y="253" width="1" height="6" fill="#ccc"/><text class="xl" x="161.8" y="276" text-anchor="middle">15時</text><rect x="225" y="253" width="1" height="6" fill="#ccc"/><text class="xl" x="224.2" y="276" text-anchor="middle">18時</text><rect x="288" y="253" width="1" height="6" fill="#ccc"/><text class="xl" x="286.6" y="276" text-anchor="middle">21時</text><rect x="350" y="253" width="1" height="6" fill="#ccc"/><text class="xl" x="349.0" y="276" text-anchor="middle">0時</text><polyline points="42.7,171.8 60.3,172.5 65.0,177.6 69.1,182.0 72.9,186.0 78.0,194.2 84.0,188.1 89.8,180.4 95.2,184.3 102.9,191.4 110.3,200.5 116.2,189.8 123.6,193.2 131.3,194.2 137.1,182.9 144.5,176.8 152.2,183.3 158.5,191.4 165.9,195.5 173.4,204.3 179.4,209.3 187.4,205.6 195.0,205.9 221.9,207.3 229.6,206.7 236.3,201.6 242.7,202.4 278.9,204.3 289.1,217.9 298.8,213.2 304.9,201.3 313.0,203.1" fill="none" stroke="#ff6600" stroke-width="2.3" stroke-linejoin="round"/><circle cx="42.7" cy="171.8" r="2.8" fill="#ff6600"/><circle cx="60.3" cy="172.5" r="2.8" fill="#ff6600"/><circle cx="65.0" cy="177.6" r="2.8" fill="#ff6600"/><circle cx="69.1" cy="182.0" r="2.8" fill="#ff6600"/><circle cx="72.9" cy="186.0" r="2.8" fill="#ff6600"/><circle cx="78.0" cy="194.2" r="2.8" fill="#ff6600"/><circle cx="84.0" cy="188.1" r="2.8" fill="#ff6600"/><circle cx="89.8" cy="180.4" r="2.8" fill="#ff6600"/><circle cx="95.2" cy="184.3" r="2.8" fill="#ff6600"/><circle cx="102.9" cy="191.4" r="2.8" fill="#ff6600"/><circle cx="110.3" cy="200.5" r="2.8" fill="#ff6600"/><circle cx="116.2" cy="189.8" r="2.8" fill="#ff6600"/><circle cx="123.6" cy="193.2" r="2.8" fill="#ff6600"/><circle cx="131.3" cy="194.2" r="2.8" fill="#ff6600"/><circle cx="137.1" cy="182.9" r="2.8" fill="#ff6600"/><circle cx="144.5" cy="176.8" r="2.8" fill="#ff6600"/><circle cx="152.2" cy="183.3" r="2.8" fill="#ff6600"/><circle cx="158.5" cy="191.4" r="2.8" fill="#ff6600"/><circle cx="165.9" cy="195.5" r="2.8" fill="#ff6600"/><circle cx="173.4" cy="204.3" r="2.8" fill="#ff6600"/><circle cx="179.4" cy="209.3" r="2.8" fill="#ff6600"/><circle cx="187.4" cy="205.6" r="2.8" fill="#ff6600"/><circle cx="195.0" cy="205.9" r="2.8" fill="#ff6600"/><circle cx="221.9" cy="207.3" r="2.8" fill="#ff6600"/><circle cx="229.6" cy="206.7" r="2.8" fill="#ff6600"/><circle cx="236.3" cy="201.6" r="2.8" fill="#ff6600"/><circle cx="242.7" cy="202.4" r="2.8" fill="#ff6600"/><circle cx="278.9" cy="204.3" r="2.8" fill="#ff6600"/><circle cx="289.1" cy="217.9" r="2.8" fill="#ff6600"/><circle cx="298.8" cy="213.2" r="2.8" fill="#ff6600"/><circle cx="304.9" cy="201.3" r="2.8" fill="#ff6600"/><circle cx="313.0" cy="203.1" r="2.8" fill="#ff6600"/><rect x="37" y="171" width="312" height="2" fill="rgba(60,255,30,0.58)"/></svg><div class="btn">632</div></div><div class="card" style="left:4px;top:1067px"><div class="bd" style="top:0px;height:344px"></div><div class="h c1" style="top:2px;height:31px;line-height:31px">BB回数</div><div class="h c2" style="top:2px;height:31px;line-height:31px">RB回数</div><div class="h c3" style="top:2px;height:31px;line-height:31px">ART回数</div><div class="h c4" style="top:2px;height:31px;line-height:31px">スタート回数</div><div class="d c1" style="top:34px;height:47px"><span class="bb" style="top:8px;left:1px">25</span></div><div class="d c2" style="top:34px;height:47px"><span class="rb" style="top:11px">14</span></div><div class="d c3" style="top:34px;height:47px"><span class="art" style="top:11px">0</span></div><div class="d c4" style="top:34px;height:47px"><span class="st2" style="top:11px">142</span></div><svg class="chart" width="360" height="300" viewBox="0 0 360 300"><rect x="350" y="92" width="1" height="161" fill="#d2d2d2"/><rect x="38" y="253" width="313" height="1" fill="#d2d2d2"/><rect x="351" y="93" width="1" height="161" fill="#dadada"/><rect x="39" y="254" width="313" height="1" fill="#dadada"/><rect x="352" y="94" width="1" height="161" fill="#e6e6e6"/><rect x="40" y="255" width="313" height="1" fill="#e6e6e6"/><rect x="353" y="95" width="1" height="161" fill="#f3f3f3"/><rect x="41" y="256" width="313" height="1" fill="#f3f3f3"/><rect x="38" y="93" width="310" height="158" fill="#000033"/><rect x="99" y="93" width="1" height="158" fill="#fff"/><rect x="162" y="93" width="1" height="158" fill="#fff"/><rect x="224" y="93" width="1" height="158" fill="#fff"/><rect x="287" y="93" width="1" height="158" fill="#fff"/><rect x="38" y="112" width="310" height="1" fill="#fff"/><rect x="38" y="132" width="310" height="1" fill="#fff"/><rect x="38" y="152" width="310" height="1" fill="#fff"/><rect x="38" y="172" width="310" height="1" fill="#fff"/><rect x="38" y="192" width="310" height="1" fill="#fff"/><rect x="38" y="212" width="310" height="1" fill="#fff"/><rect x="38" y="232" width="310" height="1" fill="#fff"/><rect x="32" y="93" width="4" height="1" fill="#c8c8c8"/><text class="yl" transform="translate(27.4 95.8) scale(0.95 1)" text-anchor="end">3000</text><rect x="32" y="113" width="4" height="1" fill="#c8c8c8"/><text class="yl" transform="translate(27.4 115.8) scale(0.95 1)" text-anchor="end">2250</text><rect x="32" y="133" width="4" height="1" fill="#c8c8c8"/><text class="yl" transform="translate(27.4 135.8) scale(0.95 1)" text-anchor="end">1500</text><rect x="32" y="153" width="4" height="1" fill="#c8c8c8"/><text class="yl" transform="translate(27.4 155.8) scale(0.95 1)" text-anchor="end">750</text><rect x="32" y="173" width="4" height="1" fill="#c8c8c8"/><text class="yl" transform="translate(27.4 175.8) scale(0.95 1)" text-anchor="end">0</text><rect x="32" y="193" width="4" height="1" fill="#c8c8c8"/><text class="yl" transform="translate(27.4 195.8) scale(0.95 1)" text-anchor="end">-750</text><rect x="32" y="213" width="4" height="1" fill="#c8c8c8"/><text class="yl" transform="translate(27.4 215.8) scale(0.95 1)" text-anchor="end">-1500</text><rect x="32" y="233" width="4" height="1" fill="#c8c8c8"/><text class="yl" transform="translate(27.4 235.8) scale(0.95 1)" text-anchor="end">-2250</text><rect x="32" y="253" width="4" height="1" fill="#c8c8c8"/><text class="yl" transform="translate(27.4 255.8) scale(0.95 1)" text-anchor="end">-3000</text><rect x="38" y="253" width="1" height="6" fill="#ccc"/><text class="xl" x="37.0" y="276" text-anchor="middle">9時</text><rect x="100" y="253" width="1" height="6" fill="#ccc"/><text class="xl" x="99.4" y="276" text-anchor="middle">12時</text><rect x="163" y="253" width="1" height="6" fill="#ccc"/><text class="xl" x="161.8" y="276" text-anchor="middle">15時</text><rect x="225" y="253" width="1" height="6" fill="#ccc"/><text class="xl" x="224.2" y="276" text-anchor="middle">18時</text><rect x="288" y="253" width="1" height="6" fill="#ccc"/><text class="xl" x="286.6" y="276" text-anchor="middle">21時</text><rect x="350" y="253" width="1" height="6" fill="#ccc"/><text class="xl" x="349.0" y="276" text-anchor="middle">0時</text><polyline points="42.7,171.7 60.3,173.4 65.0,177.9 69.1,182.9 72.9,188.3 78.0,199.2 84.0,205.2 89.8,190.4 95.2,165.7 102.9,155.9 110.3,168.4 116.2,171.4 123.6,175.9 131.3,177.9 137.4,188.3 144.9,197.5 152.6,208.2 158.4,217.7 166.1,213.3 173.3,210.6 179.4,218.5 187.2,218.1 194.9,202.5 200.7,194.4 208.5,196.1 257.3,203.4 263.4,215.9 271.5,210.0 279.2,211.6" fill="none" stroke="#ff6600" stroke-width="2.3" stroke-linejoin="round"/><circle cx="42.7" cy="171.7" r="2.8" fill="#ff6600"/><circle cx="60.3" cy="173.4" r="2.8" fill="#ff6600"/><circle cx="65.0" cy="177.9" r="2.8" fill="#ff6600"/><circle cx="69.1" cy="182.9" r="2.8" fill="#ff6600"/><circle cx="72.9" cy="188.3" r="2.8" fill="#ff6600"/><circle cx="78.0" cy="199.2" r="2.8" fill="#ff6600"/><circle cx="84.0" cy="205.2" r="2.8" fill="#ff6600"/><circle cx="89.8" cy="190.4" r="2.8" fill="#ff6600"/><circle cx="95.2" cy="165.7" r="2.8" fill="#ff6600"/><circle cx="102.9" cy="155.9" r="2.8" fill="#ff6600"/><circle cx="110.3" cy="168.4" r="2.8" fill="#ff6600"/><circle cx="116.2" cy="171.4" r="2.8" fill="#ff6600"/><circle cx="123.6" cy="175.9" r="2.8" fill="#ff6600"/><circle cx="131.3" cy="177.9" r="2.8" fill="#ff6600"/><circle cx="137.4" cy="188.3" r="2.8" fill="#ff6600"/><circle cx="144.9" cy="197.5" r="2.8" fill="#ff6600"/><circle cx="152.6" cy="208.2" r="2.8" fill="#ff6600"/><circle cx="158.4" cy="217.7" r="2.8" fill="#ff6600"/><circle cx="166.1" cy="213.3" r="2.8" fill="#ff6600"/><circle cx="173.3" cy="210.6" r="2.8" fill="#ff6600"/><circle cx="179.4" cy="218.5" r="2.8" fill="#ff6600"/><circle cx="187.2" cy="218.1" r="2.8" fill="#ff6600"/><circle cx="194.9" cy="202.5" r="2.8" fill="#ff6600"/><circle cx="200.7" cy="194.4" r="2.8" fill="#ff6600"/><circle cx="208.5" cy="196.1" r="2.8" fill="#ff6600"/><circle cx="257.3" cy="203.4" r="2.8" fill="#ff6600"/><circle cx="263.4" cy="215.9" r="2.8" fill="#ff6600"/><circle cx="271.5" cy="210.0" r="2.8" fill="#ff6600"/><circle cx="279.2" cy="211.6" r="2.8" fill="#ff6600"/><rect x="37" y="171" width="312" height="2" fill="rgba(60,255,30,0.58)"/></svg><div class="btn">633</div></div><div class="card" style="left:374px;top:1067px"><div class="bd" style="top:0px;height:344px"></div><div class="h c1" style="top:2px;height:31px;line-height:31px">BB回数</div><div class="h c2" style="top:2px;height:31px;line-height:31px">RB回数</div><div class="h c3" style="top:2px;height:31px;line-height:31px">ART回数</div><div class="h c4" style="top:2px;height:31px;line-height:31px">スタート回数</div><div class="d c1" style="top:34px;height:47px"><span class="bb" style="top:8px;left:1px">42</span></div><div class="d c2" style="top:34px;height:47px"><span class="rb" style="top:11px">16</span></div><div class="d c3" style="top:34px;height:47px"><span class="art" style="top:11px">0</span></div><div class="d c4" style="top:34px;height:47px"><span class="st2" style="top:11px">119</span></div><svg class="chart" width="360" height="300" viewBox="0 0 360 300"><rect x="350" y="92" width="1" height="161" fill="#d2d2d2"/><rect x="38" y="253" width="313" height="1" fill="#d2d2d2"/><rect x="351" y="93" width="1" height="161" fill="#dadada"/><rect x="39" y="254" width="313" height="1" fill="#dadada"/><rect x="352" y="94" width="1" height="161" fill="#e6e6e6"/><rect x="40" y="255" width="313" height="1" fill="#e6e6e6"/><rect x="353" y="95" width="1" height="161" fill="#f3f3f3"/><rect x="41" y="256" width="313" height="1" fill="#f3f3f3"/><rect x="38" y="93" width="310" height="158" fill="#000033"/><rect x="99" y="93" width="1" height="158" fill="#fff"/><rect x="162" y="93" width="1" height="158" fill="#fff"/><rect x="224" y="93" width="1" height="158" fill="#fff"/><rect x="287" y="93" width="1" height="158" fill="#fff"/><rect x="38" y="112" width="310" height="1" fill="#fff"/><rect x="38" y="132" width="310" height="1" fill="#fff"/><rect x="38" y="152" width="310" height="1" fill="#fff"/><rect x="38" y="172" width="310" height="1" fill="#fff"/><rect x="38" y="192" width="310" height="1" fill="#fff"/><rect x="38" y="212" width="310" height="1" fill="#fff"/><rect x="38" y="232" width="310" height="1" fill="#fff"/><rect x="32" y="93" width="4" height="1" fill="#c8c8c8"/><text class="yl" transform="translate(27.4 95.8) scale(0.95 1)" text-anchor="end">7000</text><rect x="32" y="113" width="4" height="1" fill="#c8c8c8"/><text class="yl" transform="translate(27.4 115.8) scale(0.95 1)" text-anchor="end">5250</text><rect x="32" y="133" width="4" height="1" fill="#c8c8c8"/><text class="yl" transform="translate(27.4 135.8) scale(0.95 1)" text-anchor="end">3500</text><rect x="32" y="153" width="4" height="1" fill="#c8c8c8"/><text class="yl" transform="translate(27.4 155.8) scale(0.95 1)" text-anchor="end">1750</text><rect x="32" y="173" width="4" height="1" fill="#c8c8c8"/><text class="yl" transform="translate(27.4 175.8) scale(0.95 1)" text-anchor="end">0</text><rect x="32" y="193" width="4" height="1" fill="#c8c8c8"/><text class="yl" transform="translate(27.4 195.8) scale(0.95 1)" text-anchor="end">-1750</text><rect x="32" y="213" width="4" height="1" fill="#c8c8c8"/><text class="yl" transform="translate(27.4 215.8) scale(0.95 1)" text-anchor="end">-3500</text><rect x="32" y="233" width="4" height="1" fill="#c8c8c8"/><text class="yl" transform="translate(27.4 235.8) scale(0.95 1)" text-anchor="end">-5250</text><rect x="32" y="253" width="4" height="1" fill="#c8c8c8"/><text class="yl" transform="translate(27.4 255.8) scale(0.95 1)" text-anchor="end">-7000</text><rect x="38" y="253" width="1" height="6" fill="#ccc"/><text class="xl" x="37.0" y="276" text-anchor="middle">9時</text><rect x="100" y="253" width="1" height="6" fill="#ccc"/><text class="xl" x="99.4" y="276" text-anchor="middle">12時</text><rect x="163" y="253" width="1" height="6" fill="#ccc"/><text class="xl" x="161.8" y="276" text-anchor="middle">15時</text><rect x="225" y="253" width="1" height="6" fill="#ccc"/><text class="xl" x="224.2" y="276" text-anchor="middle">18時</text><rect x="288" y="253" width="1" height="6" fill="#ccc"/><text class="xl" x="286.6" y="276" text-anchor="middle">21時</text><rect x="350" y="253" width="1" height="6" fill="#ccc"/><text class="xl" x="349.0" y="276" text-anchor="middle">0時</text><polyline points="42.7,171.8 60.3,172.2 65.0,174.2 69.1,174.5 72.9,175.6 78.0,169.5 84.0,170.4 89.8,168.1 95.2,167.1 102.9,169.5 110.3,171.3 123.6,171.8 131.3,174.5 137.1,167.2 144.7,160.7 152.4,150.2 158.2,131.2 165.9,110.2 173.4,110.3 179.5,109.2 187.3,111.3 195.0,112.4 200.7,114.4 208.5,119.4 216.3,123.4 221.9,118.0 229.5,119.8 236.3,115.7 242.7,121.1 250.5,123.7 257.3,127.2 263.4,130.2 271.1,127.5 278.9,122.8 289.1,110.6 298.8,110.6 304.9,114.0 313.0,112.2" fill="none" stroke="#ff6600" stroke-width="2.3" stroke-linejoin="round"/><circle cx="42.7" cy="171.8" r="2.8" fill="#ff6600"/><circle cx="60.3" cy="172.2" r="2.8" fill="#ff6600"/><circle cx="65.0" cy="174.2" r="2.8" fill="#ff6600"/><circle cx="69.1" cy="174.5" r="2.8" fill="#ff6600"/><circle cx="72.9" cy="175.6" r="2.8" fill="#ff6600"/><circle cx="78.0" cy="169.5" r="2.8" fill="#ff6600"/><circle cx="84.0" cy="170.4" r="2.8" fill="#ff6600"/><circle cx="89.8" cy="168.1" r="2.8" fill="#ff6600"/><circle cx="95.2" cy="167.1" r="2.8" fill="#ff6600"/><circle cx="102.9" cy="169.5" r="2.8" fill="#ff6600"/><circle cx="110.3" cy="171.3" r="2.8" fill="#ff6600"/><circle cx="123.6" cy="171.8" r="2.8" fill="#ff6600"/><circle cx="131.3" cy="174.5" r="2.8" fill="#ff6600"/><circle cx="137.1" cy="167.2" r="2.8" fill="#ff6600"/><circle cx="144.7" cy="160.7" r="2.8" fill="#ff6600"/><circle cx="152.4" cy="150.2" r="2.8" fill="#ff6600"/><circle cx="158.2" cy="131.2" r="2.8" fill="#ff6600"/><circle cx="165.9" cy="110.2" r="2.8" fill="#ff6600"/><circle cx="173.4" cy="110.3" r="2.8" fill="#ff6600"/><circle cx="179.5" cy="109.2" r="2.8" fill="#ff6600"/><circle cx="187.3" cy="111.3" r="2.8" fill="#ff6600"/><circle cx="195.0" cy="112.4" r="2.8" fill="#ff6600"/><circle cx="200.7" cy="114.4" r="2.8" fill="#ff6600"/><circle cx="208.5" cy="119.4" r="2.8" fill="#ff6600"/><circle cx="216.3" cy="123.4" r="2.8" fill="#ff6600"/><circle cx="221.9" cy="118.0" r="2.8" fill="#ff6600"/><circle cx="229.5" cy="119.8" r="2.8" fill="#ff6600"/><circle cx="236.3" cy="115.7" r="2.8" fill="#ff6600"/><circle cx="242.7" cy="121.1" r="2.8" fill="#ff6600"/><circle cx="250.5" cy="123.7" r="2.8" fill="#ff6600"/><circle cx="257.3" cy="127.2" r="2.8" fill="#ff6600"/><circle cx="263.4" cy="130.2" r="2.8" fill="#ff6600"/><circle cx="271.1" cy="127.5" r="2.8" fill="#ff6600"/><circle cx="278.9" cy="122.8" r="2.8" fill="#ff6600"/><circle cx="289.1" cy="110.6" r="2.8" fill="#ff6600"/><circle cx="298.8" cy="110.6" r="2.8" fill="#ff6600"/><circle cx="304.9" cy="114.0" r="2.8" fill="#ff6600"/><circle cx="313.0" cy="112.2" r="2.8" fill="#ff6600"/><rect x="37" y="171" width="312" height="2" fill="rgba(60,255,30,0.58)"/></svg><div class="btn">635</div></div><div class="card" style="left:4px;top:1420px"><div class="bd" style="top:1px;height:343px"></div><div class="h c1" style="top:3px;height:30px;line-height:30px">BB回数</div><div class="h c2" style="top:3px;height:30px;line-height:30px">RB回数</div><div class="h c3" style="top:3px;height:30px;line-height:30px">ART回数</div><div class="h c4" style="top:3px;height:30px;line-height:30px">スタート回数</div><div class="d c1" style="top:34px;height:47px"><span class="bb" style="top:8px;left:1px">35</span></div><div class="d c2" style="top:34px;height:47px"><span class="rb" style="top:11px">23</span></div><div class="d c3" style="top:34px;height:47px"><span class="art" style="top:11px">0</span></div><div class="d c4" style="top:34px;height:47px"><span class="st2" style="top:11px">145</span></div><svg class="chart" width="360" height="300" viewBox="0 0 360 300"><rect x="350" y="92" width="1" height="161" fill="#d2d2d2"/><rect x="38" y="253" width="313" height="1" fill="#d2d2d2"/><rect x="351" y="93" width="1" height="161" fill="#dadada"/><rect x="39" y="254" width="313" height="1" fill="#dadada"/><rect x="352" y="94" width="1" height="161" fill="#e6e6e6"/><rect x="40" y="255" width="313" height="1" fill="#e6e6e6"/><rect x="353" y="95" width="1" height="161" fill="#f3f3f3"/><rect x="41" y="256" width="313" height="1" fill="#f3f3f3"/><rect x="38" y="93" width="310" height="158" fill="#000033"/><rect x="99" y="93" width="1" height="158" fill="#fff"/><rect x="162" y="93" width="1" height="158" fill="#fff"/><rect x="224" y="93" width="1" height="158" fill="#fff"/><rect x="287" y="93" width="1" height="158" fill="#fff"/><rect x="38" y="112" width="310" height="1" fill="#fff"/><rect x="38" y="132" width="310" height="1" fill="#fff"/><rect x="38" y="152" width="310" height="1" fill="#fff"/><rect x="38" y="172" width="310" height="1" fill="#fff"/><rect x="38" y="192" width="310" height="1" fill="#fff"/><rect x="38" y="212" width="310" height="1" fill="#fff"/><rect x="38" y="232" width="310" height="1" fill="#fff"/><rect x="32" y="93" width="4" height="1" fill="#c8c8c8"/><text class="yl" transform="translate(27.4 95.8) scale(0.95 1)" text-anchor="end">4000</text><rect x="32" y="113" width="4" height="1" fill="#c8c8c8"/><text class="yl" transform="translate(27.4 115.8) scale(0.95 1)" text-anchor="end">3000</text><rect x="32" y="133" width="4" height="1" fill="#c8c8c8"/><text class="yl" transform="translate(27.4 135.8) scale(0.95 1)" text-anchor="end">2000</text><rect x="32" y="153" width="4" height="1" fill="#c8c8c8"/><text class="yl" transform="translate(27.4 155.8) scale(0.95 1)" text-anchor="end">1000</text><rect x="32" y="173" width="4" height="1" fill="#c8c8c8"/><text class="yl" transform="translate(27.4 175.8) scale(0.95 1)" text-anchor="end">0</text><rect x="32" y="193" width="4" height="1" fill="#c8c8c8"/><text class="yl" transform="translate(27.4 195.8) scale(0.95 1)" text-anchor="end">-1000</text><rect x="32" y="213" width="4" height="1" fill="#c8c8c8"/><text class="yl" transform="translate(27.4 215.8) scale(0.95 1)" text-anchor="end">-2000</text><rect x="32" y="233" width="4" height="1" fill="#c8c8c8"/><text class="yl" transform="translate(27.4 235.8) scale(0.95 1)" text-anchor="end">-3000</text><rect x="32" y="253" width="4" height="1" fill="#c8c8c8"/><text class="yl" transform="translate(27.4 255.8) scale(0.95 1)" text-anchor="end">-4000</text><rect x="38" y="253" width="1" height="6" fill="#ccc"/><text class="xl" x="37.0" y="276" text-anchor="middle">9時</text><rect x="100" y="253" width="1" height="6" fill="#ccc"/><text class="xl" x="99.4" y="276" text-anchor="middle">12時</text><rect x="163" y="253" width="1" height="6" fill="#ccc"/><text class="xl" x="161.8" y="276" text-anchor="middle">15時</text><rect x="225" y="253" width="1" height="6" fill="#ccc"/><text class="xl" x="224.2" y="276" text-anchor="middle">18時</text><rect x="288" y="253" width="1" height="6" fill="#ccc"/><text class="xl" x="286.6" y="276" text-anchor="middle">21時</text><rect x="350" y="253" width="1" height="6" fill="#ccc"/><text class="xl" x="349.0" y="276" text-anchor="middle">0時</text><polyline points="42.7,171.6 60.3,172.6 65.0,175.3 69.1,179.8 72.9,183.4 78.0,180.7 84.0,183.8 89.8,191.3 95.2,191.3 102.9,195.9 110.3,187.1 116.2,174.0 123.6,166.9 131.3,175.3 137.4,183.7 144.9,187.3 152.3,173.5 158.7,181.4 166.2,188.4 173.3,182.1 179.4,186.1 187.2,180.7 194.9,185.4 200.7,187.7 208.5,177.3 216.2,186.4 222.0,192.5 230.1,197.9 236.5,192.1 242.5,197.2 250.6,194.1 257.1,203.0 263.3,206.0 271.5,209.4 278.8,213.0 289.2,224.6 298.9,221.9 305.0,215.7" fill="none" stroke="#ff6600" stroke-width="2.3" stroke-linejoin="round"/><circle cx="42.7" cy="171.6" r="2.8" fill="#ff6600"/><circle cx="60.3" cy="172.6" r="2.8" fill="#ff6600"/><circle cx="65.0" cy="175.3" r="2.8" fill="#ff6600"/><circle cx="69.1" cy="179.8" r="2.8" fill="#ff6600"/><circle cx="72.9" cy="183.4" r="2.8" fill="#ff6600"/><circle cx="78.0" cy="180.7" r="2.8" fill="#ff6600"/><circle cx="84.0" cy="183.8" r="2.8" fill="#ff6600"/><circle cx="89.8" cy="191.3" r="2.8" fill="#ff6600"/><circle cx="95.2" cy="191.3" r="2.8" fill="#ff6600"/><circle cx="102.9" cy="195.9" r="2.8" fill="#ff6600"/><circle cx="110.3" cy="187.1" r="2.8" fill="#ff6600"/><circle cx="116.2" cy="174.0" r="2.8" fill="#ff6600"/><circle cx="123.6" cy="166.9" r="2.8" fill="#ff6600"/><circle cx="131.3" cy="175.3" r="2.8" fill="#ff6600"/><circle cx="137.4" cy="183.7" r="2.8" fill="#ff6600"/><circle cx="144.9" cy="187.3" r="2.8" fill="#ff6600"/><circle cx="152.3" cy="173.5" r="2.8" fill="#ff6600"/><circle cx="158.7" cy="181.4" r="2.8" fill="#ff6600"/><circle cx="166.2" cy="188.4" r="2.8" fill="#ff6600"/><circle cx="173.3" cy="182.1" r="2.8" fill="#ff6600"/><circle cx="179.4" cy="186.1" r="2.8" fill="#ff6600"/><circle cx="187.2" cy="180.7" r="2.8" fill="#ff6600"/><circle cx="194.9" cy="185.4" r="2.8" fill="#ff6600"/><circle cx="200.7" cy="187.7" r="2.8" fill="#ff6600"/><circle cx="208.5" cy="177.3" r="2.8" fill="#ff6600"/><circle cx="216.2" cy="186.4" r="2.8" fill="#ff6600"/><circle cx="222.0" cy="192.5" r="2.8" fill="#ff6600"/><circle cx="230.1" cy="197.9" r="2.8" fill="#ff6600"/><circle cx="236.5" cy="192.1" r="2.8" fill="#ff6600"/><circle cx="242.5" cy="197.2" r="2.8" fill="#ff6600"/><circle cx="250.6" cy="194.1" r="2.8" fill="#ff6600"/><circle cx="257.1" cy="203.0" r="2.8" fill="#ff6600"/><circle cx="263.3" cy="206.0" r="2.8" fill="#ff6600"/><circle cx="271.5" cy="209.4" r="2.8" fill="#ff6600"/><circle cx="278.8" cy="213.0" r="2.8" fill="#ff6600"/><circle cx="289.2" cy="224.6" r="2.8" fill="#ff6600"/><circle cx="298.9" cy="221.9" r="2.8" fill="#ff6600"/><circle cx="305.0" cy="215.7" r="2.8" fill="#ff6600"/><rect x="37" y="171" width="312" height="2" fill="rgba(60,255,30,0.58)"/></svg><div class="btn">636</div></div><div class="card" style="left:374px;top:1420px"><div class="bd" style="top:1px;height:343px"></div><div class="h c1" style="top:3px;height:30px;line-height:30px">BB回数</div><div class="h c2" style="top:3px;height:30px;line-height:30px">RB回数</div><div class="h c3" style="top:3px;height:30px;line-height:30px">ART回数</div><div class="h c4" style="top:3px;height:30px;line-height:30px">スタート回数</div><div class="d c1" style="top:34px;height:47px"><span class="bb" style="top:8px;left:1px">17</span></div><div class="d c2" style="top:34px;height:47px"><span class="rb" style="top:11px">10</span></div><div class="d c3" style="top:34px;height:47px"><span class="art" style="top:11px">0</span></div><div class="d c4" style="top:34px;height:47px"><span class="st" style="top:12px">533</span></div><svg class="chart" width="360" height="300" viewBox="0 0 360 300"><rect x="350" y="92" width="1" height="161" fill="#d2d2d2"/><rect x="38" y="253" width="313" height="1" fill="#d2d2d2"/><rect x="351" y="93" width="1" height="161" fill="#dadada"/><rect x="39" y="254" width="313" height="1" fill="#dadada"/><rect x="352" y="94" width="1" height="161" fill="#e6e6e6"/><rect x="40" y="255" width="313" height="1" fill="#e6e6e6"/><rect x="353" y="95" width="1" height="161" fill="#f3f3f3"/><rect x="41" y="256" width="313" height="1" fill="#f3f3f3"/><rect x="38" y="93" width="310" height="158" fill="#000033"/><rect x="99" y="93" width="1" height="158" fill="#fff"/><rect x="162" y="93" width="1" height="158" fill="#fff"/><rect x="224" y="93" width="1" height="158" fill="#fff"/><rect x="287" y="93" width="1" height="158" fill="#fff"/><rect x="38" y="112" width="310" height="1" fill="#fff"/><rect x="38" y="132" width="310" height="1" fill="#fff"/><rect x="38" y="152" width="310" height="1" fill="#fff"/><rect x="38" y="172" width="310" height="1" fill="#fff"/><rect x="38" y="192" width="310" height="1" fill="#fff"/><rect x="38" y="212" width="310" height="1" fill="#fff"/><rect x="38" y="232" width="310" height="1" fill="#fff"/><rect x="32" y="93" width="4" height="1" fill="#c8c8c8"/><text class="yl" transform="translate(27.4 95.8) scale(0.95 1)" text-anchor="end">5000</text><rect x="32" y="113" width="4" height="1" fill="#c8c8c8"/><text class="yl" transform="translate(27.4 115.8) scale(0.95 1)" text-anchor="end">3750</text><rect x="32" y="133" width="4" height="1" fill="#c8c8c8"/><text class="yl" transform="translate(27.4 135.8) scale(0.95 1)" text-anchor="end">2500</text><rect x="32" y="153" width="4" height="1" fill="#c8c8c8"/><text class="yl" transform="translate(27.4 155.8) scale(0.95 1)" text-anchor="end">1250</text><rect x="32" y="173" width="4" height="1" fill="#c8c8c8"/><text class="yl" transform="translate(27.4 175.8) scale(0.95 1)" text-anchor="end">0</text><rect x="32" y="193" width="4" height="1" fill="#c8c8c8"/><text class="yl" transform="translate(27.4 195.8) scale(0.95 1)" text-anchor="end">-1250</text><rect x="32" y="213" width="4" height="1" fill="#c8c8c8"/><text class="yl" transform="translate(27.4 215.8) scale(0.95 1)" text-anchor="end">-2500</text><rect x="32" y="233" width="4" height="1" fill="#c8c8c8"/><text class="yl" transform="translate(27.4 235.8) scale(0.95 1)" text-anchor="end">-3750</text><rect x="32" y="253" width="4" height="1" fill="#c8c8c8"/><text class="yl" transform="translate(27.4 255.8) scale(0.95 1)" text-anchor="end">-5000</text><rect x="38" y="253" width="1" height="6" fill="#ccc"/><text class="xl" x="37.0" y="276" text-anchor="middle">9時</text><rect x="100" y="253" width="1" height="6" fill="#ccc"/><text class="xl" x="99.4" y="276" text-anchor="middle">12時</text><rect x="163" y="253" width="1" height="6" fill="#ccc"/><text class="xl" x="161.8" y="276" text-anchor="middle">15時</text><rect x="225" y="253" width="1" height="6" fill="#ccc"/><text class="xl" x="224.2" y="276" text-anchor="middle">18時</text><rect x="288" y="253" width="1" height="6" fill="#ccc"/><text class="xl" x="286.6" y="276" text-anchor="middle">21時</text><rect x="350" y="253" width="1" height="6" fill="#ccc"/><text class="xl" x="349.0" y="276" text-anchor="middle">0時</text><polyline points="42.7,171.9 60.3,173.5 65.0,172.4 69.1,170.8 72.9,174.6 78.0,181.4 84.0,184.1 89.8,189.5 95.2,194.5 102.9,188.0 110.3,188.8 116.2,195.9 123.6,192.5 131.3,199.9 137.1,204.4 144.5,198.3 152.2,202.1 158.5,202.7 165.9,201.4 173.4,194.2 179.4,201.2 187.4,202.1 195.0,202.6 242.5,205.1 250.6,204.5 257.4,206.9 263.6,211.2 271.3,215.7 279.2,225.4 289.3,225.4 299.1,231.3 305.2,235.9 313.3,235.9" fill="none" stroke="#ff6600" stroke-width="2.3" stroke-linejoin="round"/><circle cx="42.7" cy="171.9" r="2.8" fill="#ff6600"/><circle cx="60.3" cy="173.5" r="2.8" fill="#ff6600"/><circle cx="65.0" cy="172.4" r="2.8" fill="#ff6600"/><circle cx="69.1" cy="170.8" r="2.8" fill="#ff6600"/><circle cx="72.9" cy="174.6" r="2.8" fill="#ff6600"/><circle cx="78.0" cy="181.4" r="2.8" fill="#ff6600"/><circle cx="84.0" cy="184.1" r="2.8" fill="#ff6600"/><circle cx="89.8" cy="189.5" r="2.8" fill="#ff6600"/><circle cx="95.2" cy="194.5" r="2.8" fill="#ff6600"/><circle cx="102.9" cy="188.0" r="2.8" fill="#ff6600"/><circle cx="110.3" cy="188.8" r="2.8" fill="#ff6600"/><circle cx="116.2" cy="195.9" r="2.8" fill="#ff6600"/><circle cx="123.6" cy="192.5" r="2.8" fill="#ff6600"/><circle cx="131.3" cy="199.9" r="2.8" fill="#ff6600"/><circle cx="137.1" cy="204.4" r="2.8" fill="#ff6600"/><circle cx="144.5" cy="198.3" r="2.8" fill="#ff6600"/><circle cx="152.2" cy="202.1" r="2.8" fill="#ff6600"/><circle cx="158.5" cy="202.7" r="2.8" fill="#ff6600"/><circle cx="165.9" cy="201.4" r="2.8" fill="#ff6600"/><circle cx="173.4" cy="194.2" r="2.8" fill="#ff6600"/><circle cx="179.4" cy="201.2" r="2.8" fill="#ff6600"/><circle cx="187.4" cy="202.1" r="2.8" fill="#ff6600"/><circle cx="195.0" cy="202.6" r="2.8" fill="#ff6600"/><circle cx="242.5" cy="205.1" r="2.8" fill="#ff6600"/><circle cx="250.6" cy="204.5" r="2.8" fill="#ff6600"/><circle cx="257.4" cy="206.9" r="2.8" fill="#ff6600"/><circle cx="263.6" cy="211.2" r="2.8" fill="#ff6600"/><circle cx="271.3" cy="215.7" r="2.8" fill="#ff6600"/><circle cx="279.2" cy="225.4" r="2.8" fill="#ff6600"/><circle cx="289.3" cy="225.4" r="2.8" fill="#ff6600"/><circle cx="299.1" cy="231.3" r="2.8" fill="#ff6600"/><circle cx="305.2" cy="235.9" r="2.8" fill="#ff6600"/><circle cx="313.3" cy="235.9" r="2.8" fill="#ff6600"/><rect x="37" y="171" width="312" height="2" fill="rgba(60,255,30,0.58)"/></svg><div class="btn">637</div></div></body></html>
